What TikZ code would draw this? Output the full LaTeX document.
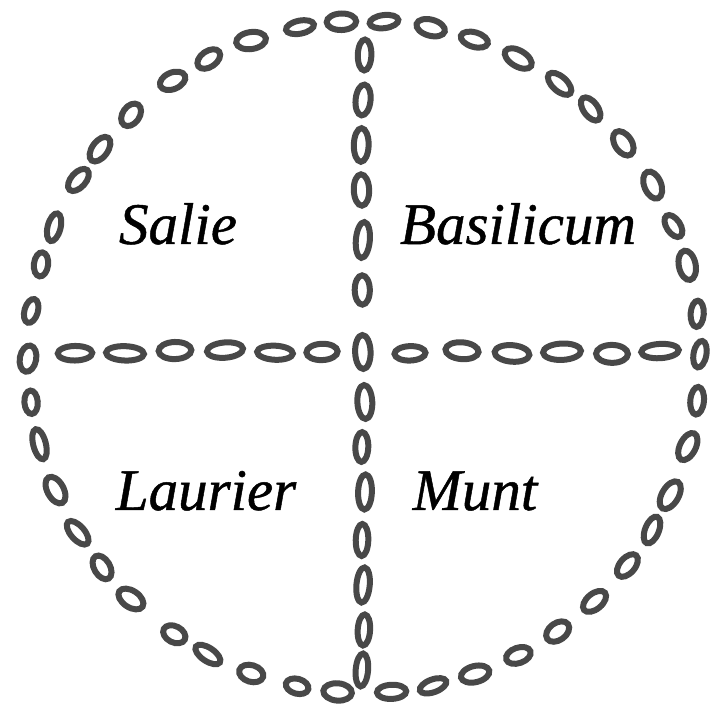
\documentclass[tikz,border=0pt]{standalone}
\usepackage{fontspec}
\setmainfont{Liberation Serif}[ItalicFeatures={FakeBold=0.8}]
\begin{document}
\begin{tikzpicture}[x=1pt,y=1pt,
  stone/.style={draw=stonecol,line width=6pt},
  herb/.style={font=\fontsize{59}{62}\selectfont\itshape,anchor=base,inner sep=0pt}]
\definecolor{stonecol}{HTML}{484848}
\useasboundingbox[fill=white] (0,0) rectangle (712,707);
\pgfmathsetseed{5}
% ring of stones
\foreach \i in {0,...,45}{
  \pgfmathsetmacro\a{\i*360/46 + 1.0*rand}
  \pgfmathsetmacro\rx{13.5+2*rand}
  \pgfmathsetmacro\ry{7.5+1.2*rand}
  \pgfmathsetmacro\tw{12*rand}
  \draw[stone] ({364+336*cos(\a)},{350+336*sin(\a)}) circle[x radius=\rx, y radius=\ry, rotate=\a+90+\tw];
}
% vertical arm
\foreach \y in {652,607,562,517,467,417,355,305,260,215,167,122,77,37}{
  \pgfmathsetmacro\rx{7+1*rand}
  \pgfmathsetmacro\ry{16+2*rand}
  \pgfmathsetmacro\tw{6*rand}
  \draw[stone] ({363+2*rand},\y) circle[x radius=\rx, y radius=\ry, rotate=\tw];
}
% horizontal arm
\foreach \x in {75,125,175,225,275,322,410,462,512,562,612,660}{
  \pgfmathsetmacro\rx{17+2*rand}
  \pgfmathsetmacro\ry{8+1*rand}
  \pgfmathsetmacro\tw{5*rand}
  \draw[stone] (\x,{355+2*rand}) circle[x radius=\rx, y radius=\ry, rotate=\tw];
}
\node[herb] (salie) at (178,463) {Salie};
\node[herb] (basilicum) at (518,463) {Basilicum};
\node[herb] (laurier) at (206,197) {Laurier};
\node[herb] (munt) at (475,197) {Munt};
\end{tikzpicture}
\end{document}
